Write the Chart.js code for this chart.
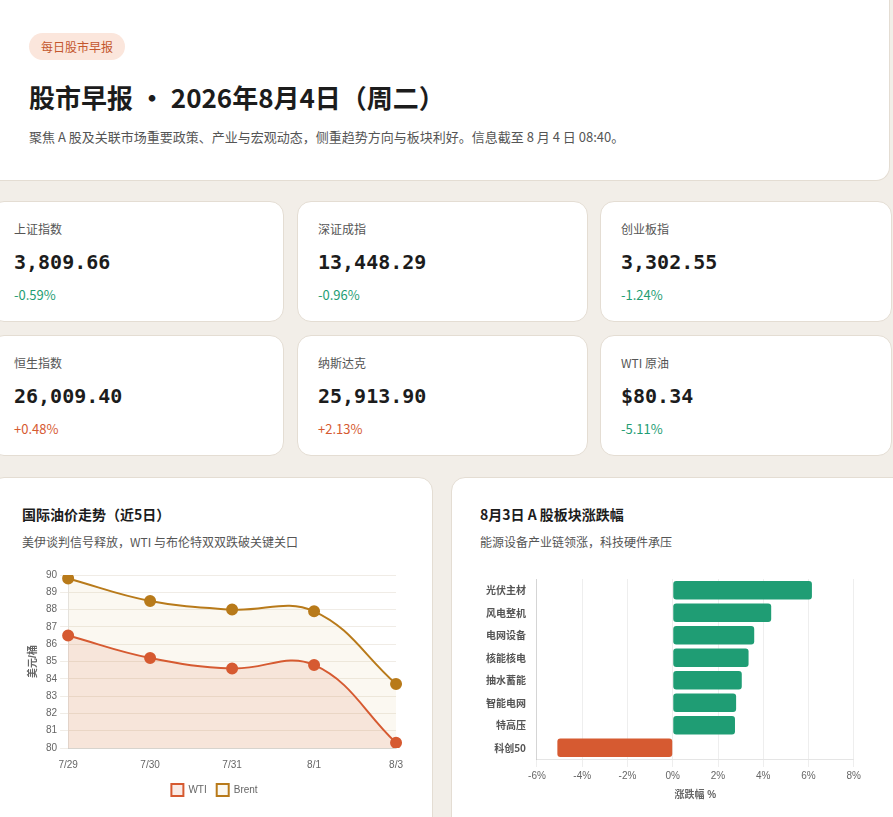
<!DOCTYPE html>
<html><head><meta charset="utf-8">
<script src="https://cdn.jsdelivr.net/npm/chart.js@4.4.0/dist/chart.umd.min.js"></script>
<style>
body{margin:0;background:#f2eee8;font-family:"Noto Sans CJK SC","Noto Sans",sans-serif;width:893px;height:817px;overflow:hidden;position:relative}
.card{position:absolute;background:#fff;border:1px solid #e4ddd3;border-radius:14px;box-sizing:border-box}
.tag{position:absolute;left:29px;top:33px;background:#fbe6dc;color:#c4572e;font-size:12px;padding:5px 12px;border-radius:14px}
h1{position:absolute;left:29px;top:78px;margin:0;font-size:26px;color:#1c1c1c;font-weight:700}
.sub{position:absolute;left:29px;top:127px;font-size:13px;color:#555}
.lbl{position:absolute;top:18px;font-size:12px;color:#555}
.val{position:absolute;top:48px;font-family:"DejaVu Sans Mono",monospace;font-weight:bold;font-size:20px;color:#1c1c1c}
.chg{position:absolute;top:83px;font-size:13px}
.dn{color:#1f9d74}.up{color:#d65a31}
.ct{position:absolute;top:26px;font-size:14px;font-weight:700;color:#1c1c1c}
.cs{position:absolute;top:55px;font-size:12px;color:#555}
.cw{position:absolute}
</style></head><body>
<div class="card" style="left:-20px;top:0;width:910px;height:181px;border-top:none;border-radius:0 0 14px 14px"></div>
<div class="tag">每日股市早报</div>
<h1>股市早报 · 2026年8月4日（周二）</h1>
<div class="sub">聚焦 A 股及关联市场重要政策、产业与宏观动态，侧重趋势方向与板块利好。信息截至 8 月 4 日 08:40。</div>
<div id="stats"></div>
<div class="card" style="left:-10px;top:477px;width:443px;height:360px">
 <div class="ct" style="left:31px">国际油价走势（近5日）</div><div class="cs" style="left:31px">美伊谈判信号释放，WTI 与布伦特双双跌破关键关口</div>
</div>
<div class="cw" style="left:23px;top:566px;width:383px;height:240px"><canvas id="oil"></canvas></div>
<div class="card" style="left:451px;top:477px;width:460px;height:360px">
 <div class="ct" style="left:28px">8月3日 A 股板块涨跌幅</div><div class="cs" style="left:28px">能源设备产业链领涨，科技硬件承压</div>
</div>
<div class="cw" style="left:483px;top:570px;width:381px;height:235px"><canvas id="sect"></canvas></div>
<script>
const statNames = ['上证指数','深证成指','创业板指','恒生指数','纳斯达克','WTI 原油'];
const statValues = ['3,809.66','13,448.29','3,302.55','26,009.40','25,913.90','$80.34'];
const statChanges = ['-0.59%','-0.96%','-1.24%','+0.48%','+2.13%','-5.11%'];
const days = ['7/29','7/30','7/31','8/1','8/3'];
const wti = [86.5, 85.2, 84.6, 84.8, 80.3];
const brent = [89.8, 88.5, 88.0, 87.9, 83.7];
const sectors = ['光伏主材','风电整机','电网设备','核能核电','抽水蓄能','智能电网','特高压','科创50'];
const sectorChg = [6.15, 4.35, 3.6, 3.35, 3.05, 2.8, 2.75, -5.1];

const lefts=[-10,297,600], tops=[201,335], widths=[294,291,292];
let html='';
statNames.forEach((n,i)=>{
  const c=i%3,r=Math.floor(i/3);
  const pad = c===0?23:20;
  html+=`<div class="card" style="left:${lefts[c]}px;top:${tops[r]}px;width:${widths[c]}px;height:121px">
   <div class="lbl" style="left:${pad}px">${n}</div><div class="val" style="left:${pad}px">${statValues[i]}</div>
   <div class="chg ${statChanges[i][0]==='-'?'dn':'up'}" style="left:${pad}px">${statChanges[i]}</div></div>`;
});
document.getElementById('stats').innerHTML=html;

Chart.defaults.font.family='"Liberation Sans","Noto Sans CJK SC",sans-serif';
Chart.defaults.font.size=10;
Chart.defaults.color='#666';
new Chart(document.getElementById('oil'),{
  type:'line',
  data:{labels:days,datasets:[
    {label:'WTI',data:wti,borderColor:'#d65a31',backgroundColor:'rgba(214,90,49,0.12)',fill:'origin',tension:0.4,pointRadius:5,pointBackgroundColor:'#d65a31',borderWidth:2},
    {label:'Brent',data:brent,borderColor:'#b87a1a',backgroundColor:'rgba(218,190,120,0.1)',fill:'origin',tension:0.4,pointRadius:5,pointBackgroundColor:'#b87a1a',borderWidth:2}
  ]},
  options:{responsive:true,maintainAspectRatio:false,animation:false,
    plugins:{legend:{position:'bottom',labels:{boxWidth:12,boxHeight:12}}},
    scales:{x:{grid:{display:false}},
      y:{min:80,max:90,ticks:{stepSize:1},grid:{color:'#f0ece6'},title:{display:true,text:'美元/桶',font:{weight:'bold'}}}}}
});
new Chart(document.getElementById('sect'),{
  type:'bar',
  data:{labels:sectors,datasets:[{data:sectorChg,
    backgroundColor:sectorChg.map(v=>v>=0?'#1f9d74':'#d65a31'),borderRadius:3,borderSkipped:false,categoryPercentage:0.9,barPercentage:0.92}]},
  options:{indexAxis:'y',responsive:true,maintainAspectRatio:false,animation:false,
    plugins:{legend:{display:false}},
    scales:{x:{min:-6,max:8,ticks:{stepSize:2,callback:v=>v+'%'},grid:{color:'#eeeeee'},title:{display:true,text:'涨跌幅 %',font:{weight:'bold'}}},
      y:{grid:{display:false},ticks:{font:{family:'"Noto Sans CJK SC"',weight:'bold'},color:'#555'}}}}
});
</script>
</body></html>
